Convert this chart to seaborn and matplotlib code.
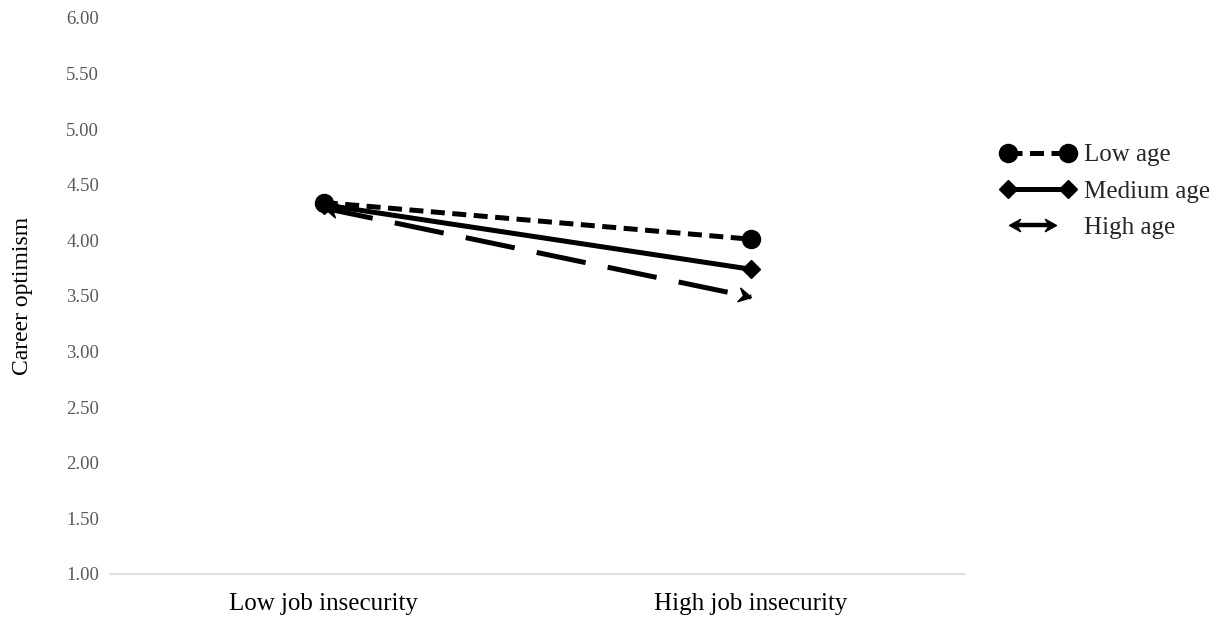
import numpy as np
import pandas as pd
import matplotlib
matplotlib.use("Agg")
import matplotlib.pyplot as plt
import seaborn as sns
from matplotlib.lines import Line2D
from matplotlib.markers import MarkerStyle
from matplotlib.path import Path
from matplotlib.transforms import Affine2D
from matplotlib.legend_handler import HandlerBase

# ---- data ----
categories = ["Low job insecurity", "High job insecurity"]
low_age = [4.34, 4.01]
medium_age = [4.32, 3.74]
high_age = [4.29, 3.49]
series_names = ["Low age", "Medium age", "High age"]
y_ticks = [1.00, 1.50, 2.00, 2.50, 3.00, 3.50, 4.00, 4.50, 5.00, 5.50, 6.00]

sns.set_theme(style="white")
plt.rcParams['font.family'] = ['Liberation Serif', 'DejaVu Serif']

rows = []
for name, vals in zip(series_names, [low_age, medium_age, high_age]):
    for i, (c, v) in enumerate(zip(categories, vals)):
        rows.append({"x": i, "cat": c, "value": v, "series": name})
df = pd.DataFrame(rows)

fig = plt.figure(figsize=(12.24, 6.22), dpi=100)
ax = fig.add_axes([0.09, 0.0772, 0.698, 0.894])

dashes = {"Low age": (2.8, 1.5), "Medium age": "", "High age": (10, 4.5)}
palette = {n: "black" for n in series_names}
sns.lineplot(data=df, x="x", y="value", hue="series", style="series",
             dashes=dashes, palette=palette, linewidth=3.6, ax=ax,
             legend=False, markers=False)

ax.set_xlim(-0.5, 1.5)
ax.set_ylim(1.0, 6.0)

# markers
xs = [0, 1]
ax.plot(xs, medium_age, ls="none", marker="D", ms=9, color="black", zorder=5)
ax.plot(xs, low_age, ls="none", marker="o", ms=13, color="black", zorder=6)

arrow_path = Path([(0, 0), (-1.0, 0.55), (-0.65, 0), (-1.0, -0.55), (0, 0)],
                  [Path.MOVETO, Path.LINETO, Path.LINETO, Path.LINETO, Path.CLOSEPOLY])

fig.canvas.draw()
p0 = ax.transData.transform((0, high_age[0]))
p1 = ax.transData.transform((1, high_age[1]))
ang = np.degrees(np.arctan2(p1[1] - p0[1], p1[0] - p0[0]))
m_right = MarkerStyle(arrow_path, transform=Affine2D().rotate_deg(ang))
m_left = MarkerStyle(arrow_path, transform=Affine2D().rotate_deg(ang + 180))
ax.plot([1], [high_age[1]], ls="none", marker=m_right, ms=18, color="black", zorder=5)
ax.plot([0], [high_age[0]], ls="none", marker=m_left, ms=18, color="black", zorder=4)

# axes styling
ax.set_xticks([0, 1])
ax.set_xticklabels(categories, fontsize=18, color="black")
ax.set_yticks(y_ticks)
ax.set_yticklabels([f"{t:.2f}" for t in y_ticks], fontsize=13.5, color="#595959")
ax.tick_params(axis="both", length=0)
ax.tick_params(axis="y", pad=8)
ax.tick_params(axis="x", pad=14)
for s in ["top", "right", "left"]:
    ax.spines[s].set_visible(False)
ax.spines["bottom"].set_color("#d9d9d9")
ax.spines["bottom"].set_linewidth(1.2)
ax.set_xlabel("")
ax.set_ylabel("Career optimism", fontsize=17, color="black", labelpad=24)
ax.grid(False)


class DoubleArrowHandler(HandlerBase):
    def create_artists(self, legend, orig_handle, xdescent, ydescent, width,
                       height, fontsize, trans):
        y = height / 2 - ydescent
        x0, x1 = -xdescent + 6, -xdescent + width - 14
        line = Line2D([x0 + 4, x1 - 4], [y, y], color="black", lw=3.2, transform=trans)
        r = Line2D([x1], [y], ls="none", marker=MarkerStyle(arrow_path),
                   ms=16, color="black", transform=trans)
        l = Line2D([x0], [y], ls="none",
                   marker=MarkerStyle(arrow_path, transform=Affine2D().rotate_deg(180)),
                   ms=16, color="black", transform=trans)
        return [line, r, l]


h_low = Line2D([], [], color="black", lw=3.6, ls=(0, (2.8, 1.5)), marker="o", ms=13)
h_med = Line2D([], [], color="black", lw=3.6, ls="-", marker="D", ms=9)
h_high = object()
leg = fig.legend([h_low, h_med, h_high], series_names,
                 handler_map={h_high: DoubleArrowHandler()},
                 loc="upper left", bbox_to_anchor=(0.799, 0.805),
                 frameon=False, fontsize=18, numpoints=2,
                 handlelength=3.0, handletextpad=0.35, labelspacing=0.55)

fig.savefig("out.png", dpi=100, facecolor="white")
